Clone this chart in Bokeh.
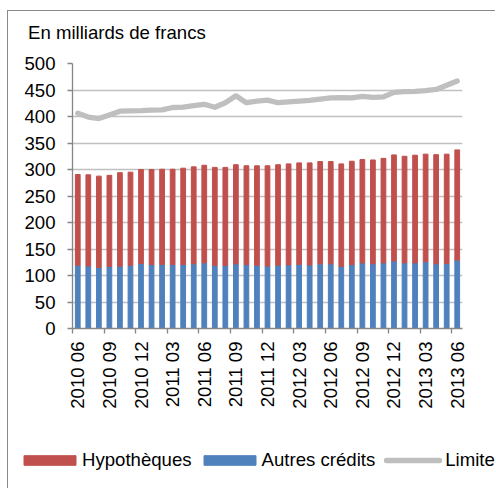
import math
from bokeh.plotting import figure
from bokeh.layouts import column
from bokeh.models import (Range1d, FixedTicker, Legend, LegendItem, ColumnDataSource, Label)
from bokeh.embed import file_html
from bokeh.resources import INLINE

# ---- data ----
months = ["2010 06", "2010 07", "2010 08", "2010 09", "2010 10", "2010 11", "2010 12",
          "2011 01", "2011 02", "2011 03", "2011 04", "2011 05", "2011 06", "2011 07",
          "2011 08", "2011 09", "2011 10", "2011 11", "2011 12", "2012 01", "2012 02",
          "2012 03", "2012 04", "2012 05", "2012 06", "2012 07", "2012 08", "2012 09",
          "2012 10", "2012 11", "2012 12", "2013 01", "2013 02", "2013 03", "2013 04",
          "2013 05", "2013 06"]
tick_labels = ["2010 06", "2010 09", "2010 12", "2011 03", "2011 06", "2011 09", "2011 12",
               "2012 03", "2012 06", "2012 09", "2012 12", "2013 03", "2013 06"]
autres = [119.4, 118.0, 115.0, 117.0, 117.5, 119.0, 122.5, 120.6, 121.0, 120.6, 120.6, 122.0,
          124.0, 119.0, 119.0, 122.0, 120.6, 119.2, 117.8, 119.4, 120.0, 121.0, 120.0, 122.0,
          122.0, 117.0, 120.6, 123.8, 122.0, 123.8, 127.5, 123.8, 123.8, 126.0, 122.0, 122.5,
          129.0]
hypotheques = [171.2, 172.0, 172.5, 172.0, 176.5, 176.0, 177.5, 179.4, 179.5, 179.9, 181.9,
               183.0, 184.0, 185.0, 185.0, 187.0, 186.4, 187.8, 189.2, 189.6, 190.6, 191.5,
               192.5, 193.0, 193.0, 193.6, 195.0, 195.0, 196.0, 197.2, 200.0, 201.2, 203.2,
               203.0, 206.0, 206.5, 208.0]
limite = [406, 399, 396, 403, 410, 410.6, 411, 412, 412.5, 417, 417.5, 420.6, 423, 417.5,
          426, 439, 426, 429, 431, 426, 427.5, 429, 430.6, 433, 435, 435.6, 435, 438, 436,
          437, 445.6, 447, 447.5, 449, 451, 459, 467]
y_ticks = [0, 50, 100, 150, 200, 250, 300, 350, 400, 450, 500]
title_text = "En milliards de francs"
series_names = ["Hypothèques", "Autres crédits", "Limite"]

FONT = "Liberation Sans"
FS = "18.6px"
AXIS_GRAY = "#868686"
RED = "#C0504D"
BLUE = "#4F81BD"
LINE_GRAY = "#BFBFBF"
W = 487


def bare(fig):
    fig.outline_line_color = None
    fig.background_fill_color = "white"
    fig.border_fill_color = "white"
    fig.grid.visible = False


n = len(months)
src = ColumnDataSource(dict(x=list(range(n)), autres=autres, hypo=hypotheques, limite=limite))

# ---- title strip ----
H0 = 40
p0 = figure(width=W, height=H0, output_backend="svg", toolbar_location=None,
            x_range=Range1d(0, W), y_range=Range1d(0, H0),
            x_axis_location=None, y_axis_location=None, frame_align=False,
            min_border_left=0, min_border_right=0, min_border_top=0, min_border_bottom=0)
bare(p0)
p0.add_layout(Label(x=19.5, y=19, text=title_text, text_font=FONT, text_font_size=FS,
                    text_color="black", text_baseline="alphabetic"))

# ---- main chart ----
p = figure(width=W, height=390, output_backend="svg", toolbar_location=None,
           x_range=Range1d(-0.5, n - 0.5), y_range=Range1d(0, 500), frame_align=False,
           min_border_left=64, min_border_right=33, min_border_top=12, min_border_bottom=113)
bare(p)
p.ygrid.visible = True
p.ygrid.grid_line_color = "#c0c0c0"
p.ygrid.grid_line_width = 1.3

p.yaxis.ticker = FixedTicker(ticks=y_ticks)
p.yaxis.axis_line_color = AXIS_GRAY
p.yaxis.axis_line_width = 1.3
p.yaxis.major_tick_line_color = AXIS_GRAY
p.yaxis.major_tick_line_width = 1.3
p.yaxis.major_tick_out = 5
p.yaxis.major_tick_in = 0
p.yaxis.minor_tick_line_color = None
p.yaxis.major_label_standoff = 12
p.yaxis.major_label_text_font = FONT
p.yaxis.major_label_text_font_size = FS
p.yaxis.major_label_text_color = "black"

label_pos = list(range(0, n, 3))
xa = p.xaxis[0]
xa.ticker = FixedTicker(ticks=label_pos, minor_ticks=[k - 0.5 for k in label_pos])
xa.major_label_overrides = {pos: lab for pos, lab in zip(label_pos, tick_labels)}
xa.major_label_orientation = math.pi / 2
xa.axis_line_color = AXIS_GRAY
xa.axis_line_width = 1.3
xa.major_tick_line_color = None
xa.major_tick_out = 0
xa.major_tick_in = 0
xa.minor_tick_line_color = AXIS_GRAY
xa.minor_tick_line_width = 1.3
xa.minor_tick_out = 5
xa.minor_tick_in = 0
xa.major_label_standoff = 8
xa.major_label_text_font = FONT
xa.major_label_text_font_size = FS
xa.major_label_text_color = "black"

p.vbar_stack(["autres", "hypo"], x="x", width=0.45, color=[BLUE, RED], source=src)
p.line("x", "limite", source=src, line_color=LINE_GRAY, line_width=5.3,
       line_cap="round", line_join="round")

# ---- legend strip (keys use the same data, out of view) ----
H2 = 47
p2 = figure(width=W, height=H2, output_backend="svg", toolbar_location=None,
            x_range=Range1d(-1000, -999), y_range=Range1d(-1000, -999),
            x_axis_location=None, y_axis_location=None, frame_align=False,
            min_border_left=0, min_border_right=0, min_border_top=0, min_border_bottom=0)
bare(p2)
k_hyp = p2.vbar(x="x", top="hypo", source=src, width=0.45, fill_color=RED, line_color=RED)
k_aut = p2.vbar(x="x", top="autres", source=src, width=0.45, fill_color=BLUE, line_color=BLUE)
k_lim = p2.line("x", "limite", source=src, line_color=LINE_GRAY, line_width=5.3,
                line_cap="round", line_dash="53 200", line_dash_offset=247)
legend = Legend(items=[LegendItem(label=series_names[0], renderers=[k_hyp]),
                       LegendItem(label=series_names[1], renderers=[k_aut]),
                       LegendItem(label=series_names[2], renderers=[k_lim])],
                location=(9, 17), orientation="horizontal",
                glyph_width=65, glyph_height=12, label_standoff=0,
                padding=0, margin=0, spacing=5, label_height=20,
                border_line_color=None, background_fill_alpha=0,
                label_text_font=FONT, label_text_font_size=FS, label_text_color="black")
p2.add_layout(legend)

layout = column(p0, p, p2, spacing=0,
                styles={"border-left": "1.5px solid #8a8a8a", "border-top": "1.5px solid #8a8a8a",
                        "margin-left": "7px", "margin-top": "10px"})

open("out.html", "w").write(file_html(layout, INLINE))
